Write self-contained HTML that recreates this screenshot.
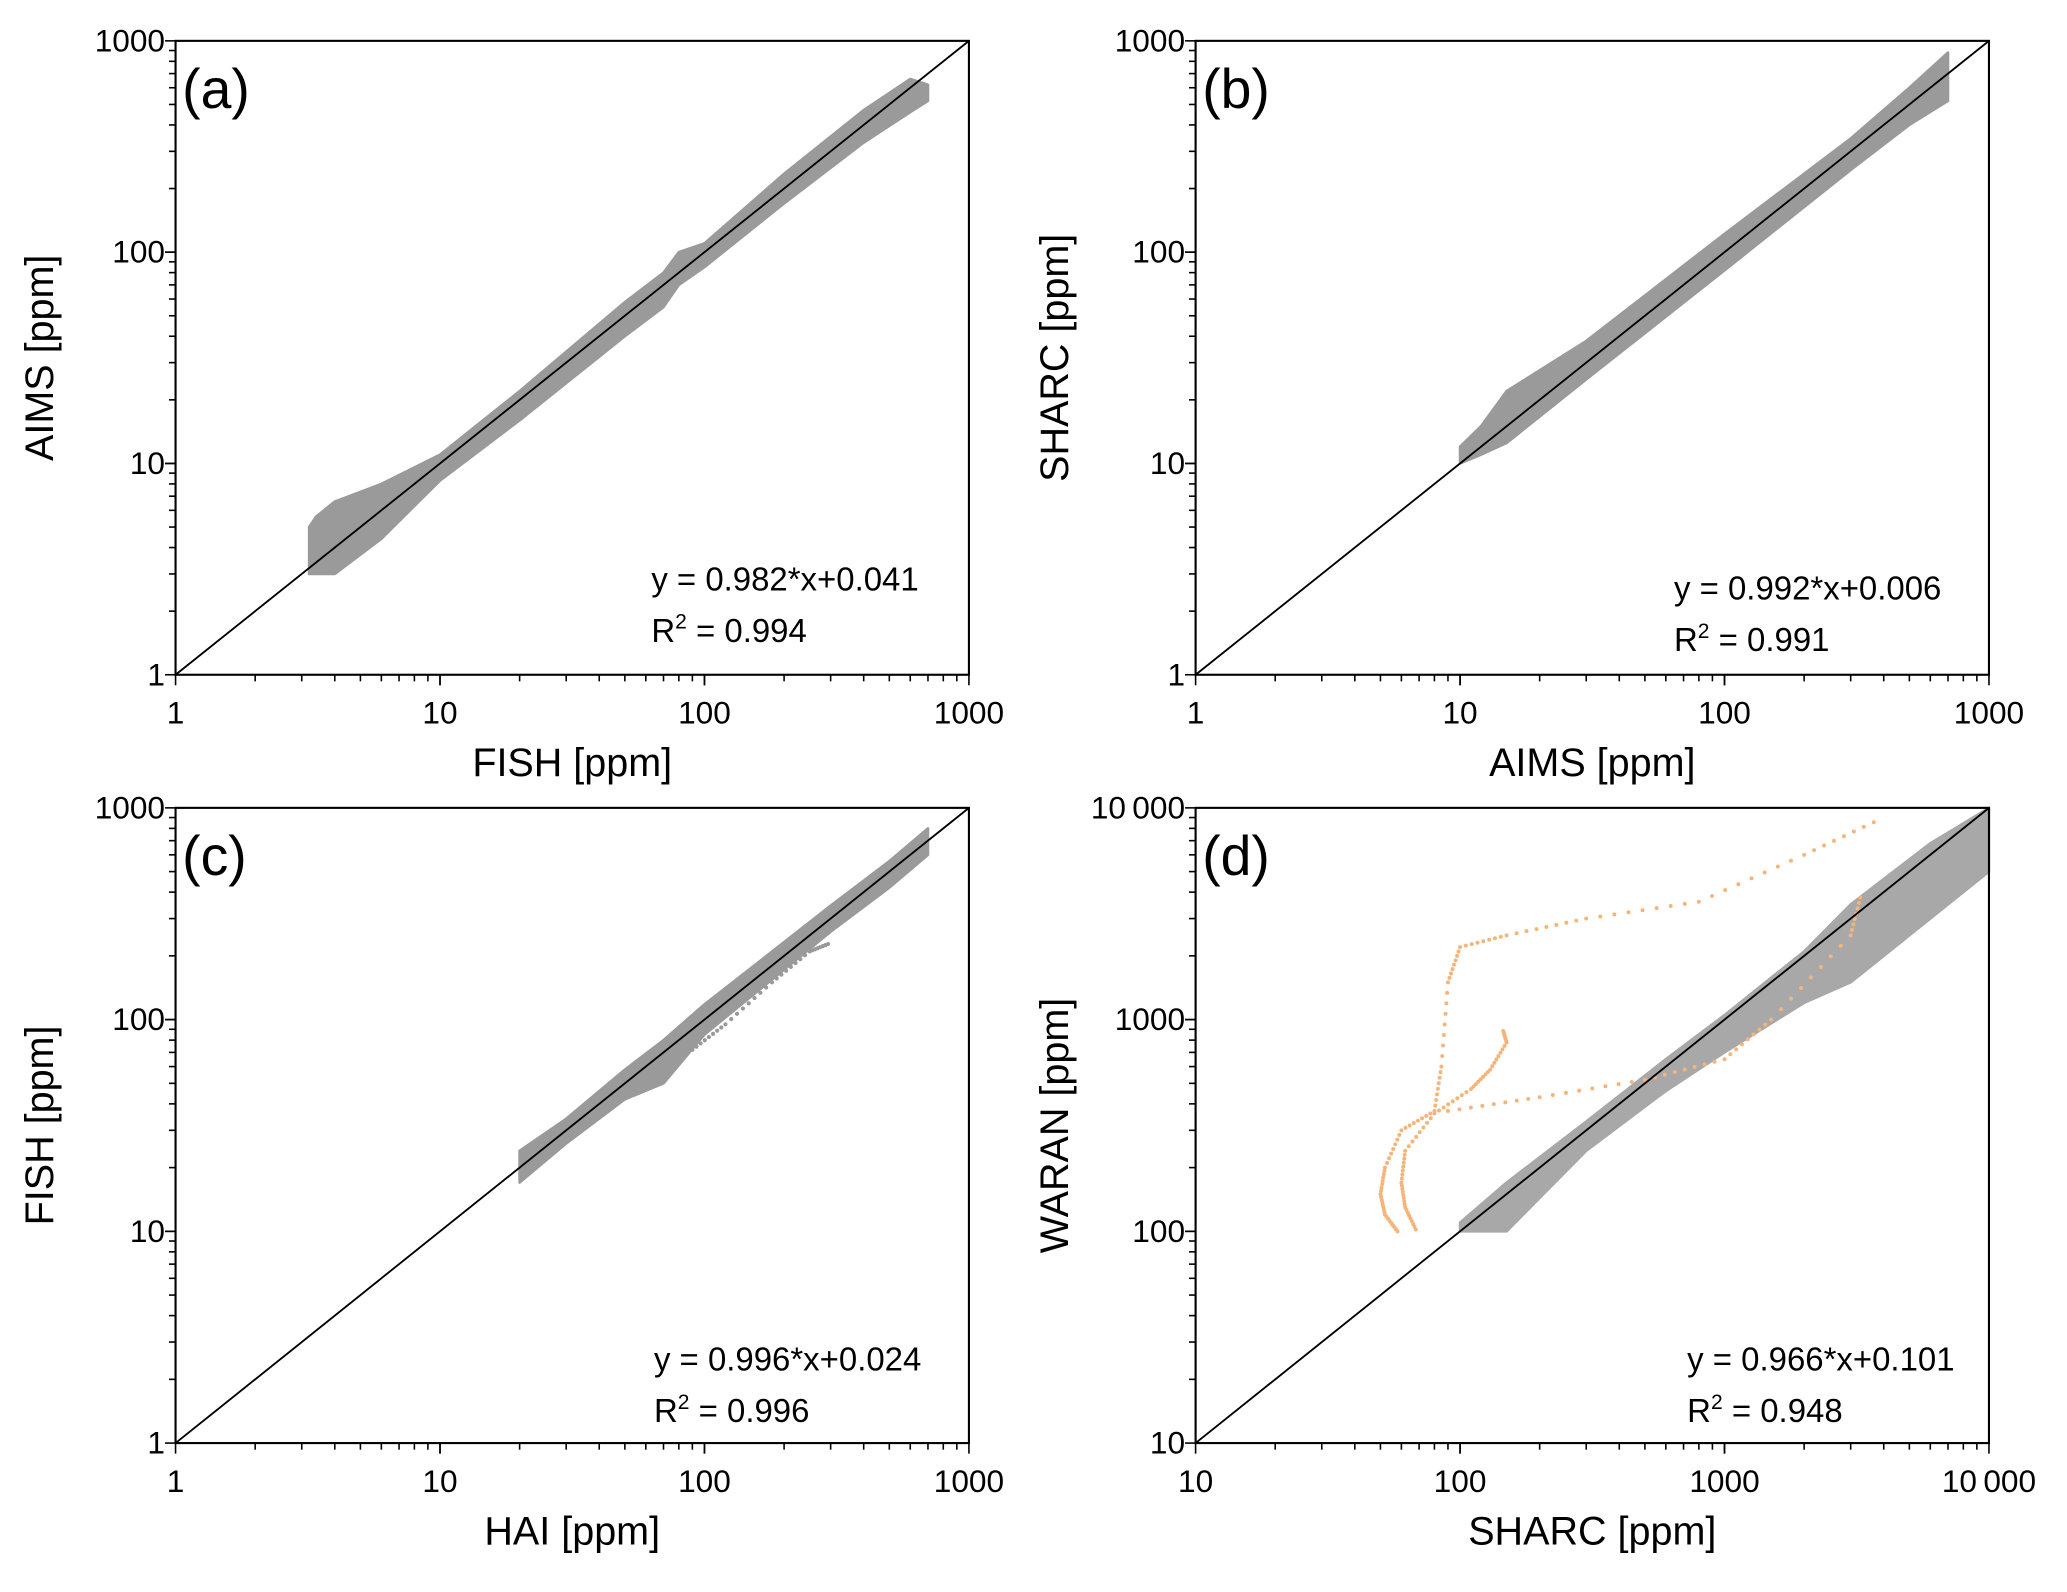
<!DOCTYPE html>
<html><head><meta charset="utf-8"><style>
html,body{margin:0;padding:0;background:#fff;}
svg{display:block;font-family:"Liberation Sans",sans-serif;}
</style></head><body>
<svg id="fig" width="2067" height="1592" viewBox="0 0 1568 1208" xmlns="http://www.w3.org/2000/svg"></svg>
<script>
// ---- data ----
const panelLabels = ["(a)","(b)","(c)","(d)"];
const xTitles = ["FISH [ppm]","AIMS [ppm]","HAI [ppm]","SHARC [ppm]"];
const yTitles = ["AIMS [ppm]","SHARC [ppm]","FISH [ppm]","WARAN [ppm]"];
const equations = ["y = 0.982*x+0.041","y = 0.992*x+0.006","y = 0.996*x+0.024","y = 0.966*x+0.101"];
const r2Values = ["0.994","0.991","0.996","0.948"];
const tickLabelsA = ["1","10","100","1000"];
const tickLabelsD = ["10","100","1000","10\u2009000"];
// band clouds: x, lower y, upper y
const bandAx = [3.2,3.4,4,6,10,20,50,70,80,100,200,400,600,700];
const bandAlo = [3.0,3.0,3.0,4.4,8.3,16,40,55,70,85,170,330,460,520];
const bandAhi = [5.0,5.6,6.6,8.0,11,22,58,80,100,110,235,470,660,620];
const bandBx = [10,12,15,30,100,300,500,700];
const bandBlo = [10,11,12.5,25,82,245,400,520];
const bandBhi = [12,15,22,38,122,345,600,880];
const bandCx = [20,30,50,70,100,300,500,700];
const bandClo = [17,26,42,50,85,260,420,600];
const bandChi = [24,34,58,80,118,345,560,800];
const outCx = [90,120,180,250,300];
const outCy = [72,95,150,210,230];
const bandDx = [100,150,300,600,1000,2000,3000,6000,10000];
const bandDlo = [100,100,240,460,700,1200,1500,3000,5000];
const bandDhi = [110,170,330,650,1050,2100,3500,6800,10000];
const orange1x = [58,52,50,52,60,80,85,90,100,150,300,800,2000,4000];
const orange1y = [100,120,150,200,300,370,600,1500,2200,2500,3000,3600,6000,9000];
const orange2x = [68,62,60,62,80,110,130,150,145];
const orange2y = [102,130,170,240,360,470,580,780,900];
const orange3x = [90,200,500,1000,1500,3000,3300];
const orange3y = [370,430,520,650,1000,2500,4000];

const NS="http://www.w3.org/2000/svg";
const svg=document.getElementById('fig');
function mk(tag,attrs,parent){const e=document.createElementNS(NS,tag);for(const k in attrs)e.setAttribute(k,attrs[k]);(parent||svg).appendChild(e);return e;}

const panels=[
 {L:133,R:735,T:31,B:512,min:1,max:1000,lab:tickLabelsA,ytx:40,eqx:494,eqy:448},
 {L:907,R:1509,T:31,B:512,min:1,max:1000,lab:tickLabelsA,ytx:810,eqx:1270,eqy:455},
 {L:133,R:735,T:613,B:1095,min:1,max:1000,lab:tickLabelsA,ytx:40,eqx:496,eqy:1040},
 {L:907,R:1509,T:613,B:1095,min:10,max:10000,lab:tickLabelsD,ytx:810,eqx:1280,eqy:1040}
];

panels.forEach((p,i)=>{
 const g=mk('g',{});
 
 
 const lmin=Math.log10(p.min),lmax=Math.log10(p.max);
 const sx=v=>p.L+(Math.log10(v)-lmin)/(lmax-lmin)*(p.R-p.L);
 const sy=v=>p.B-(Math.log10(v)-lmin)/(lmax-lmin)*(p.B-p.T);
 const band=(xs,lo,hi,name,col)=>{
   let pts=xs.map((x,k)=>sx(x)+','+sy(hi[k]));
   pts=pts.concat(xs.map((x,k)=>sx(x)+','+sy(lo[k])).reverse());
   const e=mk('polygon',{points:pts.join(' '),fill:col,stroke:col,'stroke-width':2,'stroke-linejoin':'round'},g);
   
   
 };
 const dots=(xs,ys,name,col,r)=>{
   for(let k=0;k<xs.length-1;k++){
     for(let t=0;t<8;t++){
       const f=t/8;
       const lx=Math.log10(xs[k])*(1-f)+Math.log10(xs[k+1])*f;
       const ly=Math.log10(ys[k])*(1-f)+Math.log10(ys[k+1])*f;
       const c=mk('circle',{cx:sx(Math.pow(10,lx)),cy:sy(Math.pow(10,ly)),r:r,fill:col},g);
       
       
     }
   }
 };
 if(i===0)band(bandAx,bandAlo,bandAhi,'scatter-cloud','#9a9a9a');
 if(i===1)band(bandBx,bandBlo,bandBhi,'scatter-cloud','#9a9a9a');
 if(i===2){band(bandCx,bandClo,bandChi,'scatter-cloud','#9a9a9a');dots(outCx,outCy,'outlier-points','#999',1.6);}
 if(i===3){band(bandDx,bandDlo,bandDhi,'scatter-cloud','#a8a8a8');
   dots(orange1x,orange1y,'orange-points','#f5b57a',1.5);
   dots(orange2x,orange2y,'orange-points','#f5b57a',1.5);
   dots(orange3x,orange3y,'orange-points','#f5b57a',1.5);}
 const ln=mk('line',{x1:p.L,y1:p.B,x2:p.R,y2:p.T,stroke:'#000','stroke-width':1.4},g);
 
 
 const fr=mk('rect',{x:p.L,y:p.T,width:p.R-p.L,height:p.B-p.T,fill:'none',stroke:'#000','stroke-width':1.6},g);
 
 
 for(let d=0;d<3;d++){
   const base=p.min*Math.pow(10,d);
   for(let m=1;m<=10;m++){
     const v=base*m; const major=(m===1||m===10);
     const len=major?8:5;
     mk('line',{x1:sx(v),y1:p.B,x2:sx(v),y2:p.B+len,stroke:'#000','stroke-width':1.2},g);
     mk('line',{x1:p.L,y1:sy(v),x2:p.L-len,y2:sy(v),stroke:'#000','stroke-width':1.2},g);
   }
 }
 p.lab.forEach((t,k)=>{
   const v=p.min*Math.pow(10,k);
   const xt=mk('text',{x:sx(v),y:p.B+37,'font-size':24,'text-anchor':'middle'},g);
   xt.textContent=t;
   
   
   const yt=mk('text',{x:p.L-8,y:sy(v)+8,'font-size':24,'text-anchor':'end'},g);
   yt.textContent=t;
   
   
 });
 const xtitle=mk('text',{x:(p.L+p.R)/2,y:p.B+77,'font-size':30,'text-anchor':'middle'},g);
 xtitle.textContent=xTitles[i];
 
 
 const cy=(p.T+p.B)/2;
 const ytitle=mk('text',{x:p.ytx,y:cy,'font-size':30,'text-anchor':'middle',transform:`rotate(-90 ${p.ytx} ${cy})`},g);
 ytitle.textContent=yTitles[i];
 
 
 const pl=mk('text',{x:p.L+5,y:p.T+51,'font-size':42},g);
 pl.textContent=panelLabels[i];
 
 
 const eq=mk('text',{x:p.eqx,y:p.eqy,'font-size':25},g);
 eq.textContent=equations[i];
 
 
 const r2=mk('text',{x:p.eqx,y:p.eqy+39,'font-size':25},g);
 
 
 const a=mk('tspan',{},r2);a.textContent='R';
 const b=mk('tspan',{'font-size':16,dy:-10},r2);b.textContent='2';
 const c=mk('tspan',{dy:10},r2);c.textContent=' = '+r2Values[i];
});
</script>
</body></html>
